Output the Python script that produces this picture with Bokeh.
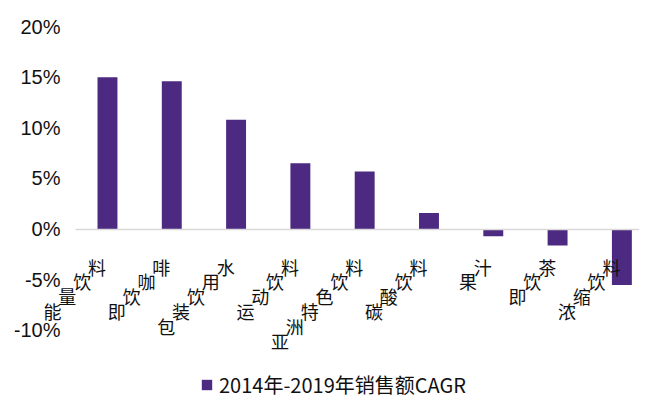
import math
from bokeh.plotting import figure
from bokeh.models import (Range1d, FixedTicker, PrintfTickFormatter, Legend, LegendItem,
                          ColumnDataSource, LinearAxis)
from bokeh.core.properties import value
from bokeh.embed import file_html
from bokeh.resources import INLINE

categories = ["能量饮料", "即饮咖啡", "包装饮用水", "运动饮料", "亚洲特色饮料", "碳酸饮料", "果汁", "即饮茶", "浓缩饮料"]
cagr = [15.0, 14.6, 10.8, 6.5, 5.7, 1.6, -0.7, -1.6, -5.5]
y_ticks = [-10, -5, 0, 5, 10, 15, 20]
series_name = "2014年-2019年销售额CAGR"

BAR = "#4D2A82"
STEP = 21 * math.cos(math.pi / 4)   # diagonal character advance (px)

idx = list(range(len(categories)))
src = ColumnDataSource(dict(x=idx, top=cagr))

# category labels laid out character by character along a 45° diagonal
lx, ly, lch, ldx, ldy = [], [], [], [], []
for i, cat in zip(idx, categories):
    n = len(cat)
    for j, ch in enumerate(cat):
        d = (n - 1 - j) + 0.5
        lx.append(i)
        ly.append(0)
        lch.append(ch)
        ldx.append(-3 - d * STEP)
        ldy.append(30 + d * STEP)
lab_src = ColumnDataSource(dict(x=lx, y=ly, ch=lch, dx=ldx, dy=ldy))

p = figure(width=639, height=399, output_backend="svg", toolbar_location=None,
           x_range=Range1d(-1.446, 8.274), y_range=Range1d(-16.81, 21.974),
           x_axis_location=None, y_axis_location=None,
           min_border_left=14, min_border_right=0,
           min_border_top=6, min_border_bottom=0)
p.outline_line_color = None
p.grid.visible = False

yax = LinearAxis(ticker=FixedTicker(ticks=y_ticks), formatter=PrintfTickFormatter(format="%d%%"),
                 fixed_location=-1.291)
yax.axis_line_color = None
yax.major_tick_line_color = None
yax.minor_tick_line_color = None
yax.major_tick_in = 0
yax.major_tick_out = 0
yax.major_label_standoff = -36
yax.major_label_text_font = "Liberation Sans"
yax.major_label_text_font_size = "20px"
yax.major_label_text_color = "#111111"
p.add_layout(yax, "left")

bars = p.vbar(x="x", top="top", bottom=0, width=0.31, source=src,
              fill_color=BAR, line_color=None)

# zero baseline as a category axis drawn at y = 0
xax = LinearAxis(ticker=FixedTicker(ticks=[]), fixed_location=0, bounds=(-0.5, 8.274))
xax.axis_line_color = "#d9d9d9"
xax.axis_line_width = 1.5
xax.major_tick_line_color = None
xax.minor_tick_line_color = None
xax.major_tick_in = 0
xax.major_tick_out = 0
xax.major_label_standoff = 0
xax.major_label_text_font_size = "0px"
p.add_layout(xax, "below")

p.text(x="x", y="y", text="ch", source=lab_src, x_offset="dx", y_offset="dy",
       text_align="center", text_baseline="middle",
       text_font=value("Noto Sans CJK SC"), text_font_size="18px", text_color="#111111")

legend = Legend(items=[LegendItem(label=series_name, renderers=[bars])],
                location=(186, 0), orientation="horizontal",
                glyph_width=13, glyph_height=13, label_standoff=6, padding=0, margin=0,
                label_height=13,
                border_line_color=None, background_fill_alpha=0,
                label_text_font="Noto Sans CJK SC", label_text_font_size="20px",
                label_text_color="#111111")
p.add_layout(legend)

open("out.html", "w").write(file_html(p, INLINE))
